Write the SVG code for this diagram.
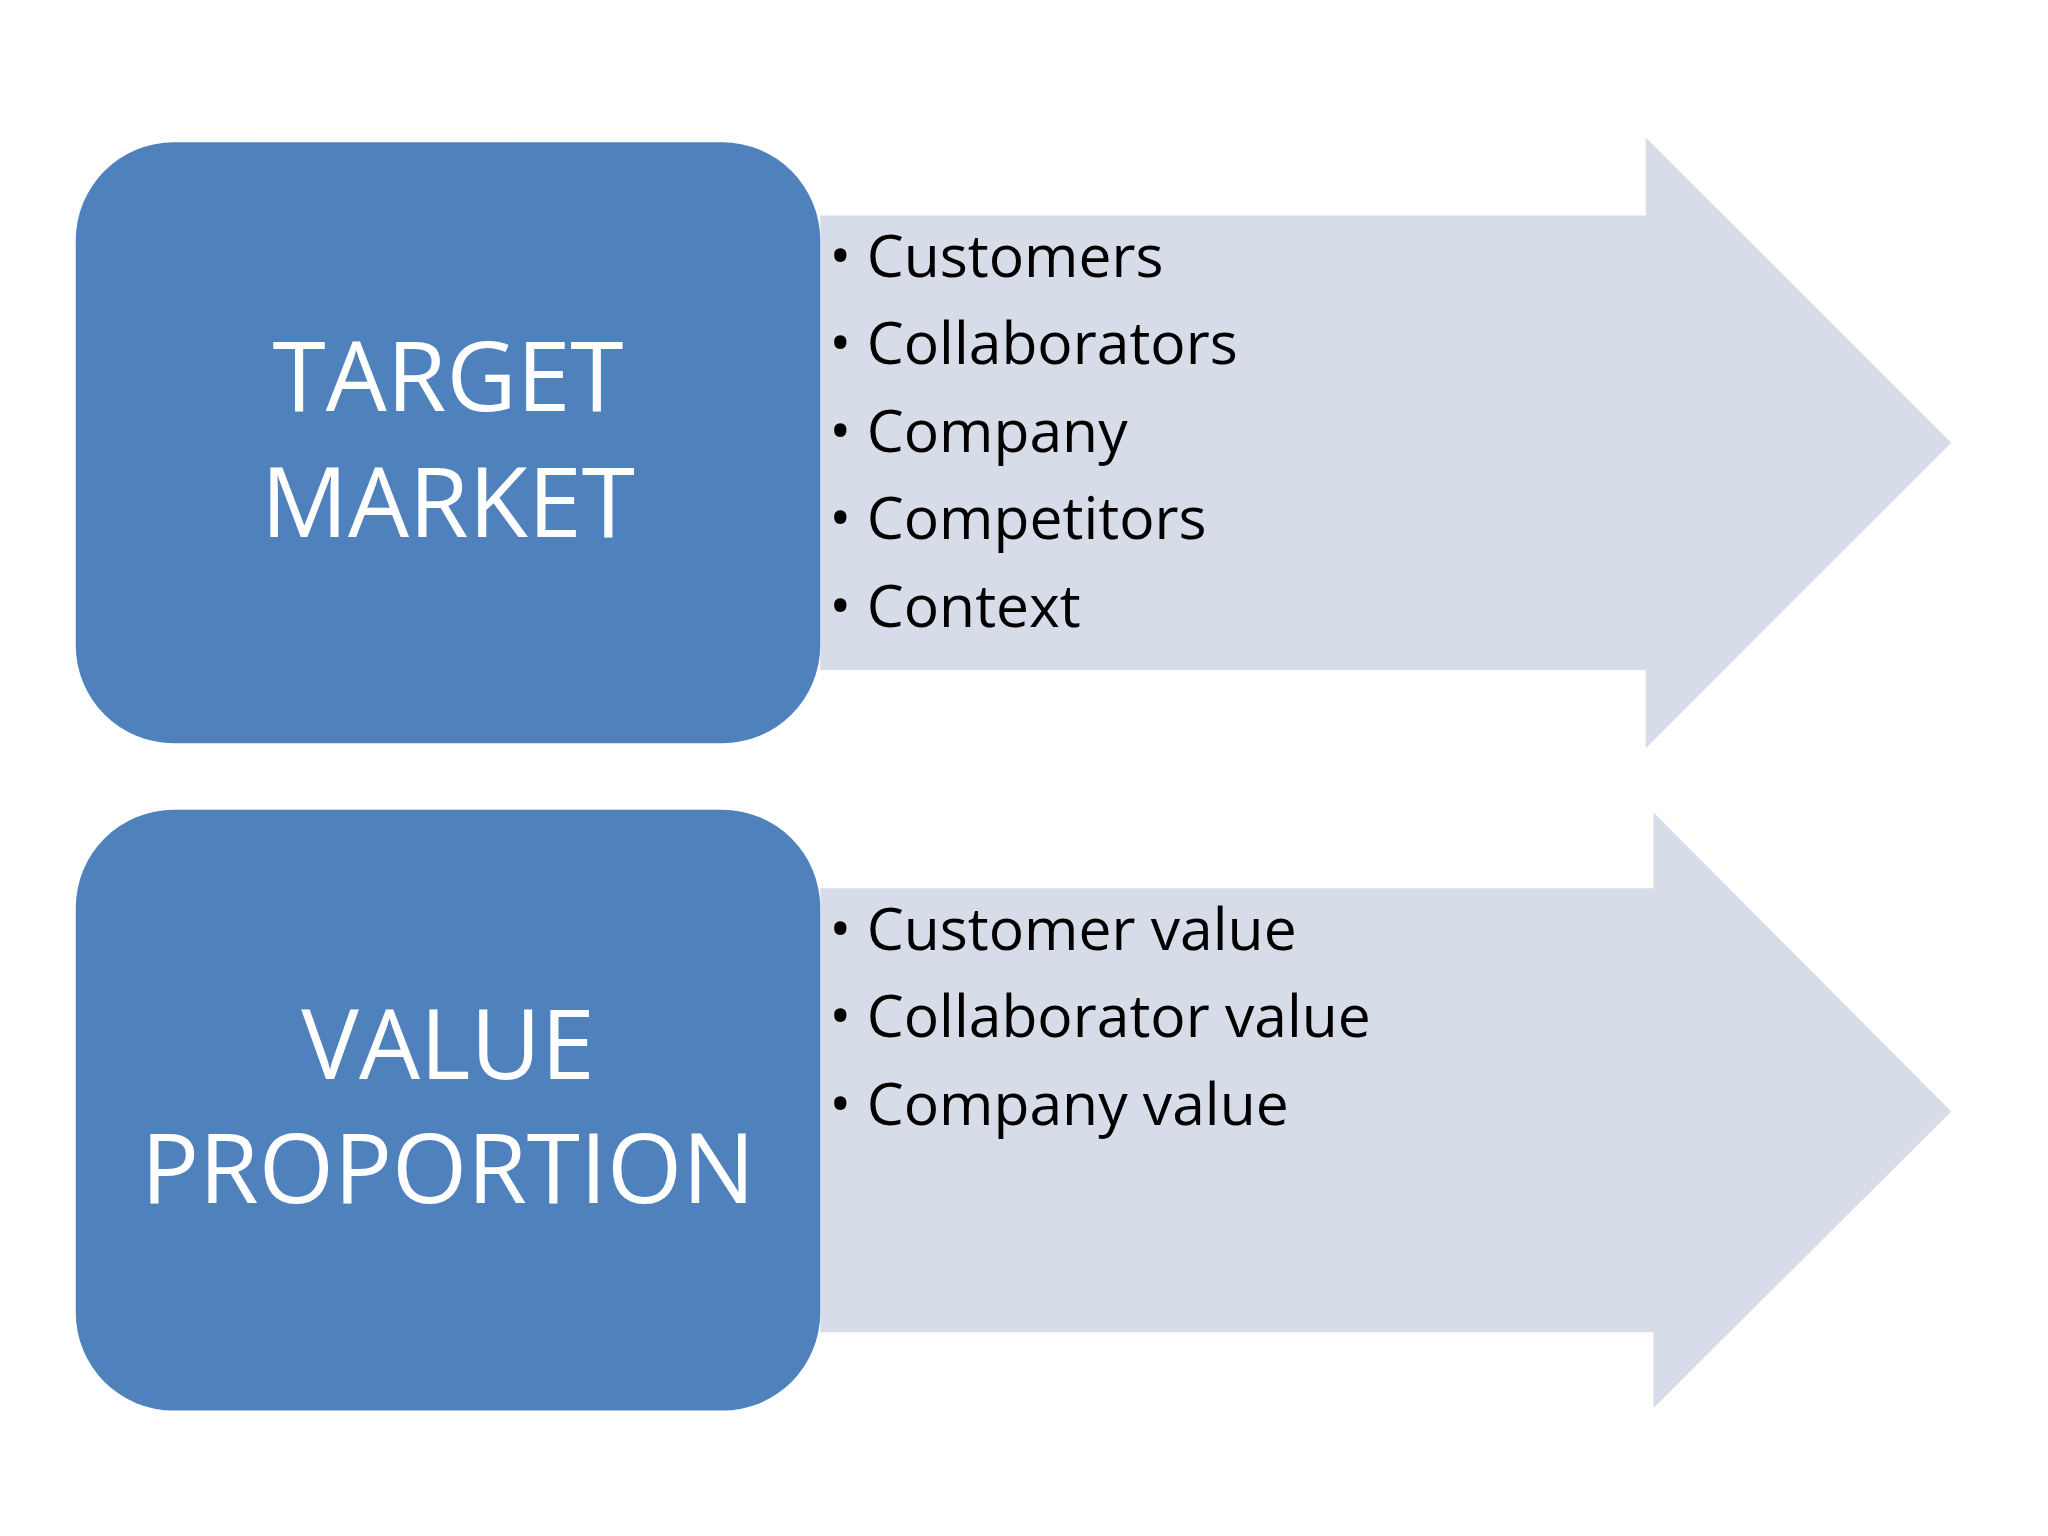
<svg xmlns="http://www.w3.org/2000/svg" width="2048" height="1536" viewBox="0 0 2048 1536">
<style>
.box{fill:#4F81BD}
.arr{fill:#D7DCE9}
.t{font-family:"Open Sans","Liberation Sans",sans-serif;fill:#fff;font-size:74px;text-anchor:middle}
.b{font-family:"Open Sans","Liberation Sans",sans-serif;fill:#000;font-size:45px}
</style>
<rect width="2048" height="1536" fill="#fff"/>
<g transform="scale(1.3061)">
<g id="connectors">
<polygon id="arrow1" class="arr" points="628,165 1260,165 1260,105 1494,339 1260,573 1260,513 628,513"/>
<polygon id="arrow2" class="arr" points="628,680 1266,680 1266,622 1494,851 1266,1078 1266,1020 628,1020"/>
</g>
<g id="node-target">
<rect class="box" x="58" y="109" width="570" height="460" rx="75"/>
<text class="t" x="343" y="315">TARGET</text>
<text class="t" x="343" y="411">MARKET</text>
</g>
<g id="node-value">
<rect class="box" x="58" y="620" width="570" height="460" rx="75"/>
<text class="t" x="343" y="826">VALUE</text>
<text class="t" x="343" y="921">PROPORTION</text>
</g>
<g id="list1" class="b">
<text x="635" y="212">•  Customers</text>
<text x="635" y="279">•  Collaborators</text>
<text x="635" y="346">•  Company</text>
<text x="635" y="413">•  Competitors</text>
<text x="635" y="480">•  Context</text>
</g>
<g id="list2" class="b">
<text x="635" y="727">•  Customer value</text>
<text x="635" y="794">•  Collaborator value</text>
<text x="635" y="861">•  Company value</text>
</g>
</g>
</svg>
